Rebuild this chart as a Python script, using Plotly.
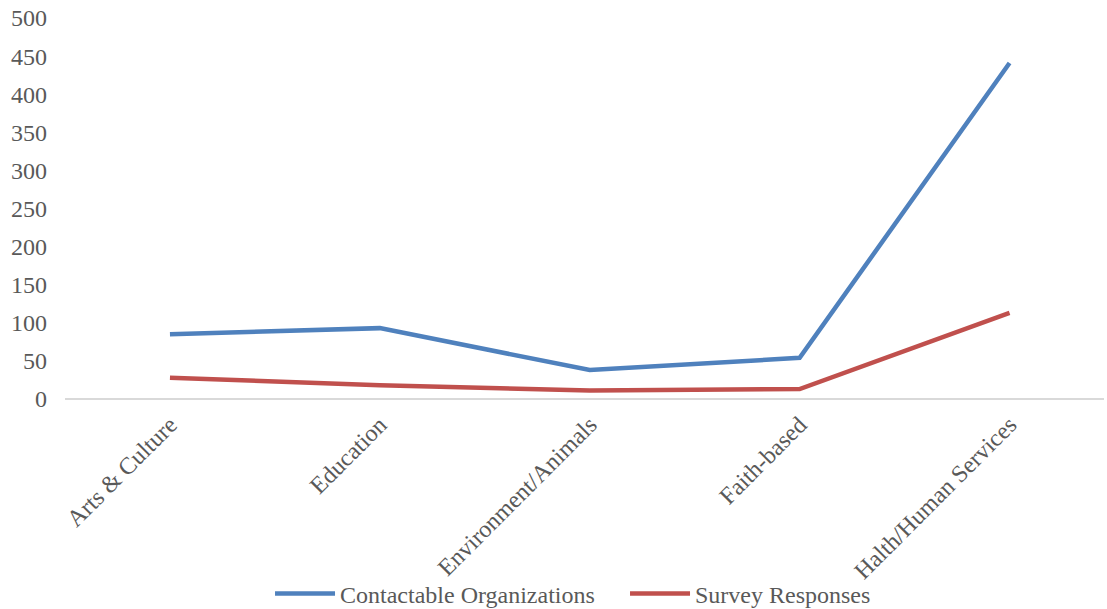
import plotly.graph_objects as go

categories = ["Arts & Culture", "Education", "Environment/Animals", "Faith-based", "Halth/Human Services"]
contactable = [85, 93, 38, 54, 441]
responses = [28, 18, 11, 13, 113]

font_family = '"Liberation Serif", "Times New Roman", Times, serif'
label_color = "#595959"

fig = go.Figure()
fig.add_trace(go.Scatter(
    x=categories, y=contactable, mode="lines",
    name="Contactable Organizations",
    line=dict(color="#4F81BD", width=4.5),
))
fig.add_trace(go.Scatter(
    x=categories, y=responses, mode="lines",
    name="Survey Responses",
    line=dict(color="#C0504D", width=4.5),
))

fig.update_layout(
    width=1107, height=609,
    margin=dict(l=65, r=3, t=18, b=210, autoexpand=False),
    paper_bgcolor="white",
    plot_bgcolor="white",
    font=dict(family=font_family, size=24, color=label_color),
    xaxis=dict(
        range=[-0.5, 4.45],
        showgrid=False,
        zeroline=False,
        showline=False,
        tickangle=-45,
        ticks="",
        ticklabelstandoff=6,
        automargin=False,
    ),
    yaxis=dict(
        range=[0, 500],
        dtick=50,
        showgrid=False,
        zeroline=True,
        zerolinecolor="#d9d9d9",
        zerolinewidth=1.5,
        showline=False,
        ticks="",
        ticklabelstandoff=17,
        ticklabeloverflow="allow",
        automargin=False,
    ),
    legend=dict(
        orientation="h",
        x=0.539, xanchor="center",
        yref="container", y=0.025, yanchor="middle",
        font=dict(family=font_family, size=24, color=label_color),
        bgcolor="rgba(0,0,0,0)",
        itemwidth=60,
        entrywidth=280,
    ),
)

# drop the default body margin so the figure fills the window exactly
fig.write_html("out.html", config={"displayModeBar": False},
               post_script="document.body.style.margin='0';")
